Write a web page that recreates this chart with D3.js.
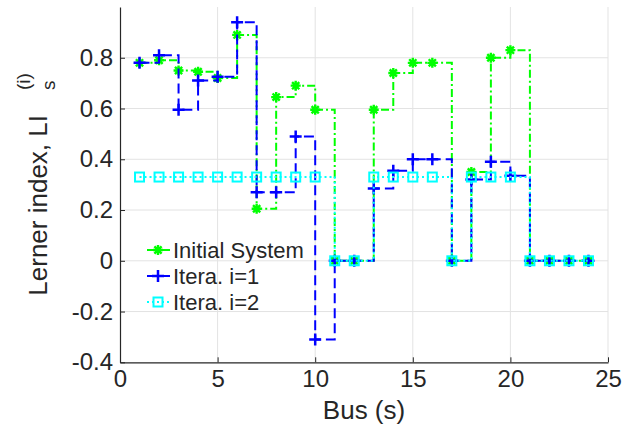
<!DOCTYPE html>
<html><head><meta charset="utf-8">
<script src="https://cdn.jsdelivr.net/npm/d3@7"></script>
<style>body{margin:0;background:#fff}svg{display:block}text{font-family:"Liberation Sans",Arial,sans-serif;fill:#262626}</style>
</head><body><svg id="c" width="630" height="433"></svg>
<script>
const buses = [1,2,3,4,5,6,7,8,9,10,11,12,13,14,15,16,17,18,19,20,21,22,23,24];
const initialSystem = [0.78,0.79,0.75,0.745,0.72,0.89,0.205,0.645,0.69,0.595,0,0,0.595,0.74,0.78,0.78,0,0.35,0.80,0.83,0,0,0,0];
const itera1 = [0.78,0.81,0.595,0.71,0.725,0.94,0.27,0.27,0.49,-0.31,0,0,0.285,0.355,0.40,0.40,0,0.32,0.39,0.335,0,0,0,0];
const itera2 = [0.33,0.33,0.33,0.33,0.33,0.33,0.33,0.33,0.33,0.33,0,0,0.33,0.33,0.33,0.33,0,0.33,0.33,0.33,0,0,0,0];
const xTicks = [0,5,10,15,20,25];
const yTicks = [-0.4,-0.2,0,0.2,0.4,0.6,0.8];
const yTickLabels = ["-0.4","-0.2","0","0.2","0.4","0.6","0.8"];
const seriesNames = ["Initial System","Itera. i=1","Itera. i=2"];

const svg = d3.select("#c");
const x = d3.scaleLinear().domain([0,25]).range([120,608]);
const y = d3.scaleLinear().domain([-0.4,1.0]).range([362.3,7]);

// grid
const g = svg.append("g");
g.selectAll(".gx").data(xTicks.filter(d=>d>0)).enter().append("line")
  .attr("x1",d=>x(d)).attr("x2",d=>x(d)).attr("y1",y(-0.4)).attr("y2",y(1.0))
  .attr("stroke","#e3e3e3").attr("stroke-width",1);
g.selectAll(".gy").data(yTicks.filter(d=>d>-0.4)).enter().append("line")
  .attr("x1",x(0)).attr("x2",x(25)).attr("y1",d=>y(d)).attr("y2",d=>y(d))
  .attr("stroke","#e3e3e3").attr("stroke-width",1);

// axes
const xAxis = d3.axisBottom(x).tickValues(xTicks).tickSizeInner(-5).tickSizeOuter(0).tickPadding(12);
const ax = svg.append("g").attr("transform",`translate(0,${y(-0.4)})`).call(xAxis);
ax.select(".domain").attr("stroke","#262626").attr("stroke-width",1.2);
ax.selectAll(".tick line").attr("stroke","#262626");
ax.selectAll(".tick text").attr("font-size",24).attr("font-family","Liberation Sans, Arial").attr("fill","#262626").attr("dy","0.71em").attr("y",8);
const yAxis = d3.axisLeft(y).tickValues(yTicks).tickFormat((d,i)=>yTickLabels[i]).tickSizeInner(-5).tickSizeOuter(0).tickPadding(8);
const ay = svg.append("g").attr("transform",`translate(${x(0)},0)`).call(yAxis);
ay.select(".domain").attr("stroke","#262626").attr("stroke-width",1.2);
ay.selectAll(".tick line").attr("stroke","#262626");
ay.selectAll(".tick text").attr("font-size",24).attr("font-family","Liberation Sans, Arial").attr("fill","#262626").attr("x",-7);

// labels
svg.append("text").attr("x",364).attr("y",419).attr("text-anchor","middle").attr("font-size",26).text("Bus (s)");
const yl = svg.append("g").attr("transform","translate(47,0) rotate(-90)");
yl.append("text").attr("x",-115).attr("y",0).attr("text-anchor","end").attr("font-size",26).text("Lerner index, LI");
yl.append("text").attr("x",-90).attr("y",-17).attr("text-anchor","start").attr("font-size",19).text("(i)");
yl.append("text").attr("x",-90).attr("y",8).attr("text-anchor","start").attr("font-size",19).text("s");

const series = [
  {name:seriesNames[0], vals:initialSystem, color:"#00ff00", dash:"8,3,2,3", marker:"star"},
  {name:seriesNames[1], vals:itera1, color:"#0000ff", dash:"10,5", marker:"plus"},
  {name:seriesNames[2], vals:itera2, color:"#00ffff", dash:"2,3", marker:"square"}
];
const line = d3.line().x(d=>x(d[0])).y(d=>y(d[1])).curve(d3.curveStepAfter);

function drawMarker(sel, type, color){
  if(type==="star"){
    sel.append("path").attr("d","M-5,0H5M0,-5V5M-3.6,-3.6L3.6,3.6M-3.6,3.6L3.6,-3.6")
      .attr("stroke",color).attr("stroke-width",2.4).attr("fill","none");
  } else if(type==="plus"){
    sel.append("path").attr("d","M-6,0H6M0,-6V6").attr("stroke",color).attr("stroke-width",2.5).attr("fill","none");
  } else {
    sel.append("rect").attr("x",-4.5).attr("y",-4.5).attr("width",9).attr("height",9)
      .attr("stroke",color).attr("stroke-width",2).attr("fill","none");
  }
}

series.forEach(s=>{
  const pts = buses.map((b,i)=>[b,s.vals[i]]);
  svg.append("path").datum(pts).attr("d",line).attr("fill","none").attr("stroke",s.color)
    .attr("stroke-width",2).attr("stroke-dasharray",s.dash);
  svg.append("g").selectAll("g").data(pts).enter().append("g")
    .attr("transform",d=>`translate(${x(d[0])},${y(d[1])})`)
    .each(function(){ drawMarker(d3.select(this), s.marker, s.color); });
});

// legend
const legY = [250,276,302];
series.forEach((s,i)=>{
  const lg = svg.append("g").attr("transform",`translate(0,${legY[i]})`);
  lg.append("line").attr("x1",147).attr("x2",170).attr("y1",0).attr("y2",0)
    .attr("stroke",s.color).attr("stroke-width",2).attr("stroke-dasharray",s.dash);
  const m = lg.append("g").attr("transform","translate(158,0)");
  drawMarker(m, s.marker, s.color);
  lg.append("text").attr("x",173).attr("y",8).attr("font-size",22).text(s.name);
});
</script></body></html>
